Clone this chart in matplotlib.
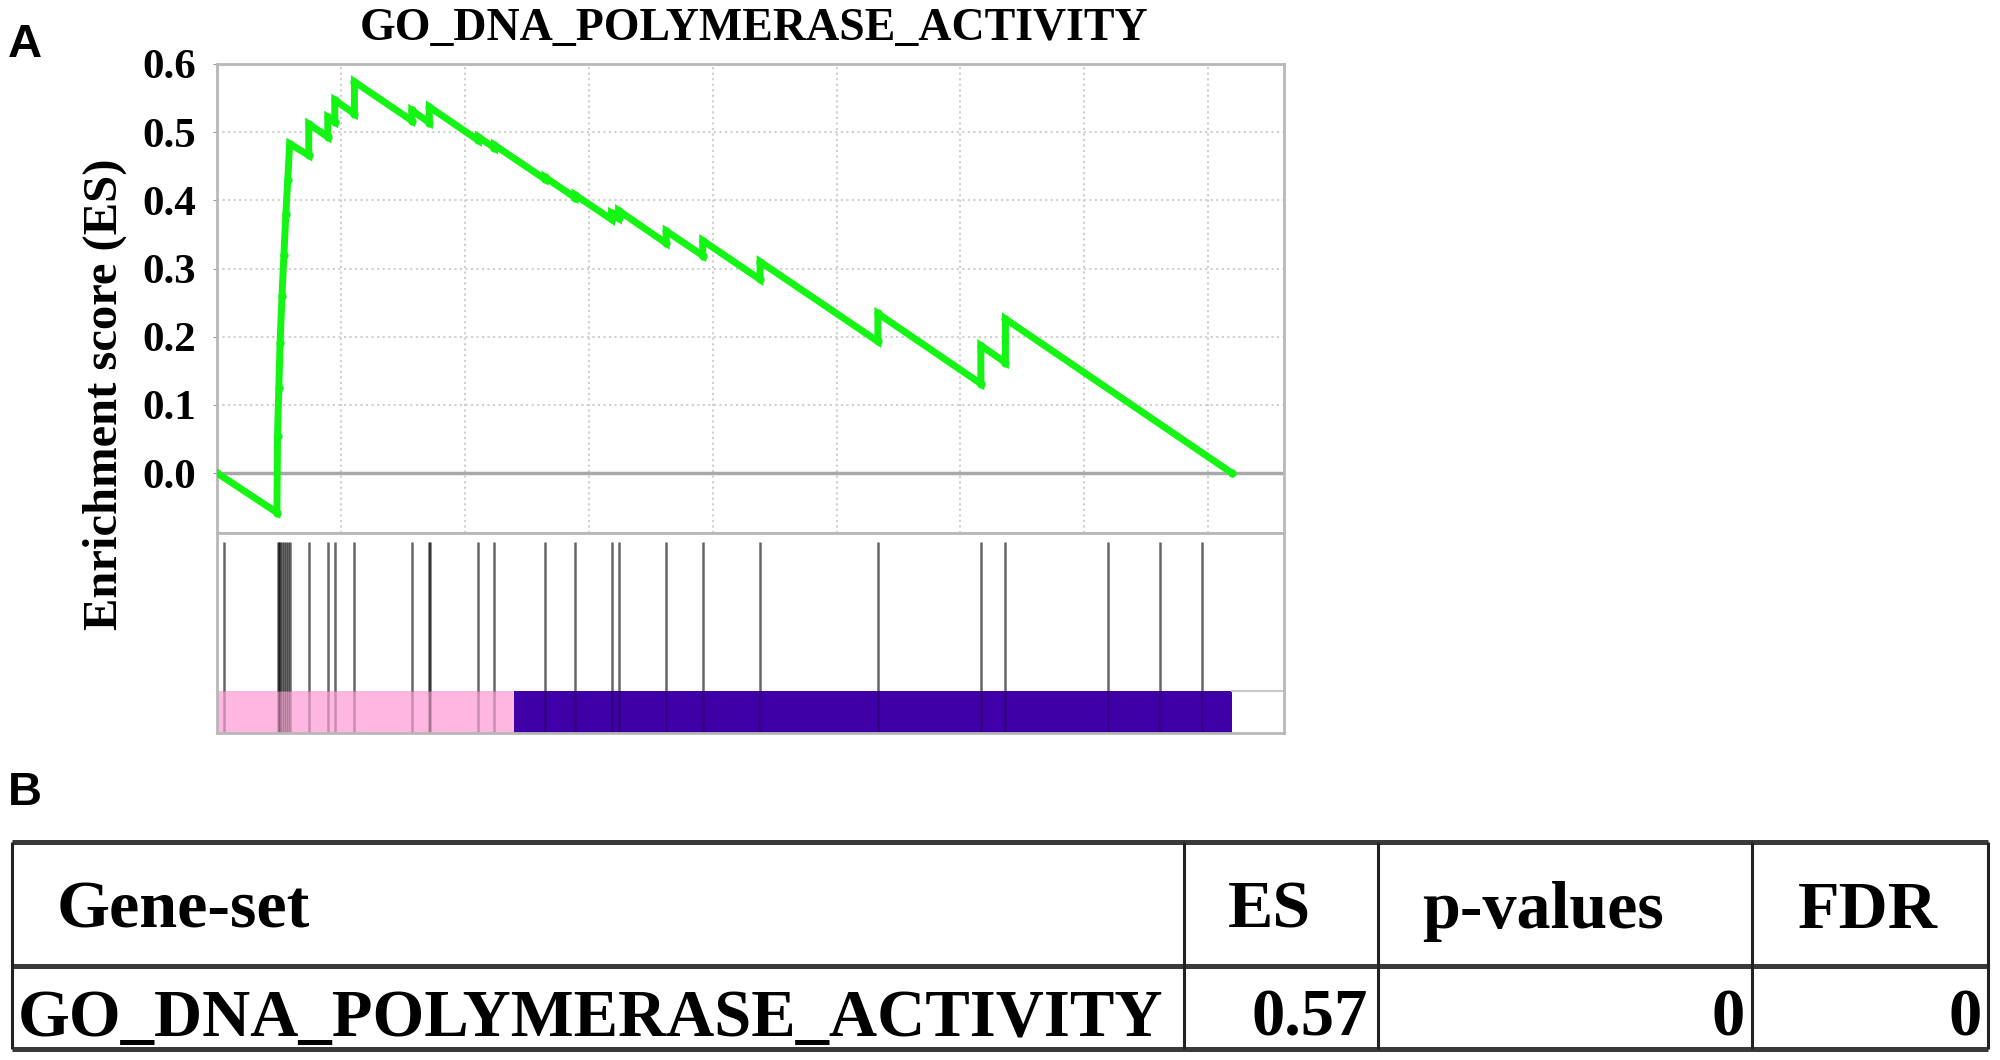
import numpy as np
import matplotlib
matplotlib.use('Agg')
import matplotlib.pyplot as plt

# gene list, positions (rank units)
n_genes = 16380
x_max = 17222
pos_end = 4794          # end of the positively correlated (pink) part

# running enrichment score: vertices of the green curve
es_rank = [0, 967, 977, 998, 1018, 1049, 1080, 1111, 1142, 1173,
           1481, 1481, 1788, 1788, 1901, 1901, 2218, 2218,
           3144, 3144, 3428, 3428, 4218, 4218, 4479, 4479,
           5294, 5294, 5780, 5780, 6368, 6368, 6481, 6481,
           7251, 7251, 7840, 7840, 8765, 8765, 10667, 10667,
           12329, 12329, 12726, 12726, 16380]
es_value = [0.0, -0.058, 0.055, 0.125, 0.19, 0.26, 0.32, 0.38, 0.43, 0.483,
            0.466, 0.512, 0.493, 0.522, 0.515, 0.547, 0.527, 0.574,
            0.517, 0.532, 0.514, 0.537, 0.488, 0.493, 0.477, 0.481,
            0.431, 0.434, 0.404, 0.408, 0.372, 0.381, 0.374, 0.385,
            0.337, 0.355, 0.319, 0.341, 0.284, 0.310, 0.193, 0.234,
            0.131, 0.187, 0.162, 0.226, 0.0]

# hit positions of the gene set members
hit_rank = [113, 977, 998, 1018, 1049, 1080, 1111, 1142, 1173,
            1481, 1788, 1901, 2218, 3144, 3428, 3445, 4218, 4479,
            5294, 5780, 6368, 6481, 7251, 7840, 8765, 10667,
            12329, 12726, 14377, 15226, 15893]

yticks = [0.0, 0.1, 0.2, 0.3, 0.4, 0.5, 0.6]
title = 'GO_DNA_POLYMERASE_ACTIVITY'

table_header = ['Gene-set', 'ES', 'p-values', 'FDR']
table_row = ['GO_DNA_POLYMERASE_ACTIVITY', '0.57', '0', '0']

serif = 'Liberation Serif'
sans = 'Liberation Sans'
W, H = 2000, 1060

fig = plt.figure(figsize=(20, 10.6), dpi=100)

def box(l, t, r, b):
    return [l / W, 1 - b / H, (r - l) / W, (b - t) / H]

# ---- enrichment score panel
ax = fig.add_axes(box(217, 64, 1284, 533))
ax.plot(es_rank, es_value, color='#14f514', lw=5, marker='o', ms=5,
        solid_joinstyle='miter', zorder=3)
ax.axhline(0, color='#a8a8a8', lw=2.5, zorder=2)
ax.set_xlim(0, x_max)
ax.set_ylim(-0.088, 0.6)
ax.set_xticks(np.arange(2000, x_max, 2000))
ax.set_xticklabels([])
ax.set_yticks(yticks)
ax.set_yticklabels(['%.1f' % v for v in yticks], fontsize=31,
                   fontweight='bold', family=serif)
ax.tick_params(axis='y', length=3, pad=12, color='#999999')
ax.tick_params(axis='x', length=0)
ax.grid(True, ls=':', color='#cfcfcf', lw=1.5)
for s in ax.spines.values():
    s.set_color('#b8b8b8')
    s.set_linewidth(2)

# ---- hits + ranked list bar
ax2 = fig.add_axes(box(217, 533, 1284, 733))
ax2.set_xlim(0, x_max)
ax2.set_ylim(0, 1)
ax2.broken_barh([(0, pos_end), (pos_end, n_genes - pos_end)], (0, 0.21),
                facecolors=['#ffb6e0', '#4000a8'], zorder=1)
ax2.vlines(hit_rank, 0.21, 0.955, color='#000000', alpha=0.6, lw=1.8, zorder=2)
ax2.vlines(hit_rank, 0, 0.21, color='#000000', alpha=0.22, lw=1.8, zorder=2)
ax2.axhline(0.21, xmin=n_genes / x_max, color='#c8c8c8', lw=1.5)
ax2.set_xticks([])
ax2.set_yticks([])
for s in ax2.spines.values():
    s.set_color('#b8b8b8')
    s.set_linewidth(2)

fig.text(105 / W, 1 - 394 / H, 'Enrichment score (ES)', rotation=90,
         ha='center', va='center', fontsize=35, fontweight='bold', family=serif)
fig.text(754 / W, 1 - 40 / H, title, ha='center', va='baseline',
         fontsize=33, fontweight='bold', family=serif)
fig.text(8 / W, 1 - 57 / H, 'A', ha='left', va='baseline', fontsize=34,
         fontweight='bold', family=sans)
fig.text(8 / W, 1 - 805 / H, 'B', ha='left', va='baseline', fontsize=34,
         fontweight='bold', family=sans)

# ---- table
tab = fig.add_axes([0, 0, 1, 1], zorder=-1)
tab.set_xlim(0, W)
tab.set_ylim(H, 0)
tab.axis('off')
rows_y = [842, 966, 1049]
cols_x = [12, 1184, 1378, 1752, 1988]
for y in rows_y:
    tab.plot([cols_x[0], cols_x[-1]], [y, y], color='#3a3a3a', lw=3.6,
             solid_capstyle='butt')
for x in cols_x:
    tab.plot([x, x], [rows_y[0], rows_y[-1]], color='#222222', lw=2.2,
             solid_capstyle='butt')

head_x = [57, 1228, 1422, 1798]
for x, txt in zip(head_x, table_header):
    tab.text(x, 928, txt, ha='left', va='baseline', fontsize=49,
             fontweight='bold', family=serif)
tab.text(18, 1036, table_row[0], ha='left', va='baseline', fontsize=48,
         fontweight='bold', family=serif)
for x, txt in zip([1368, 1745, 1982], table_row[1:]):
    tab.text(x, 1036, txt, ha='right', va='baseline', fontsize=48,
             fontweight='bold', family=serif)

fig.savefig('out.png', dpi=100)
